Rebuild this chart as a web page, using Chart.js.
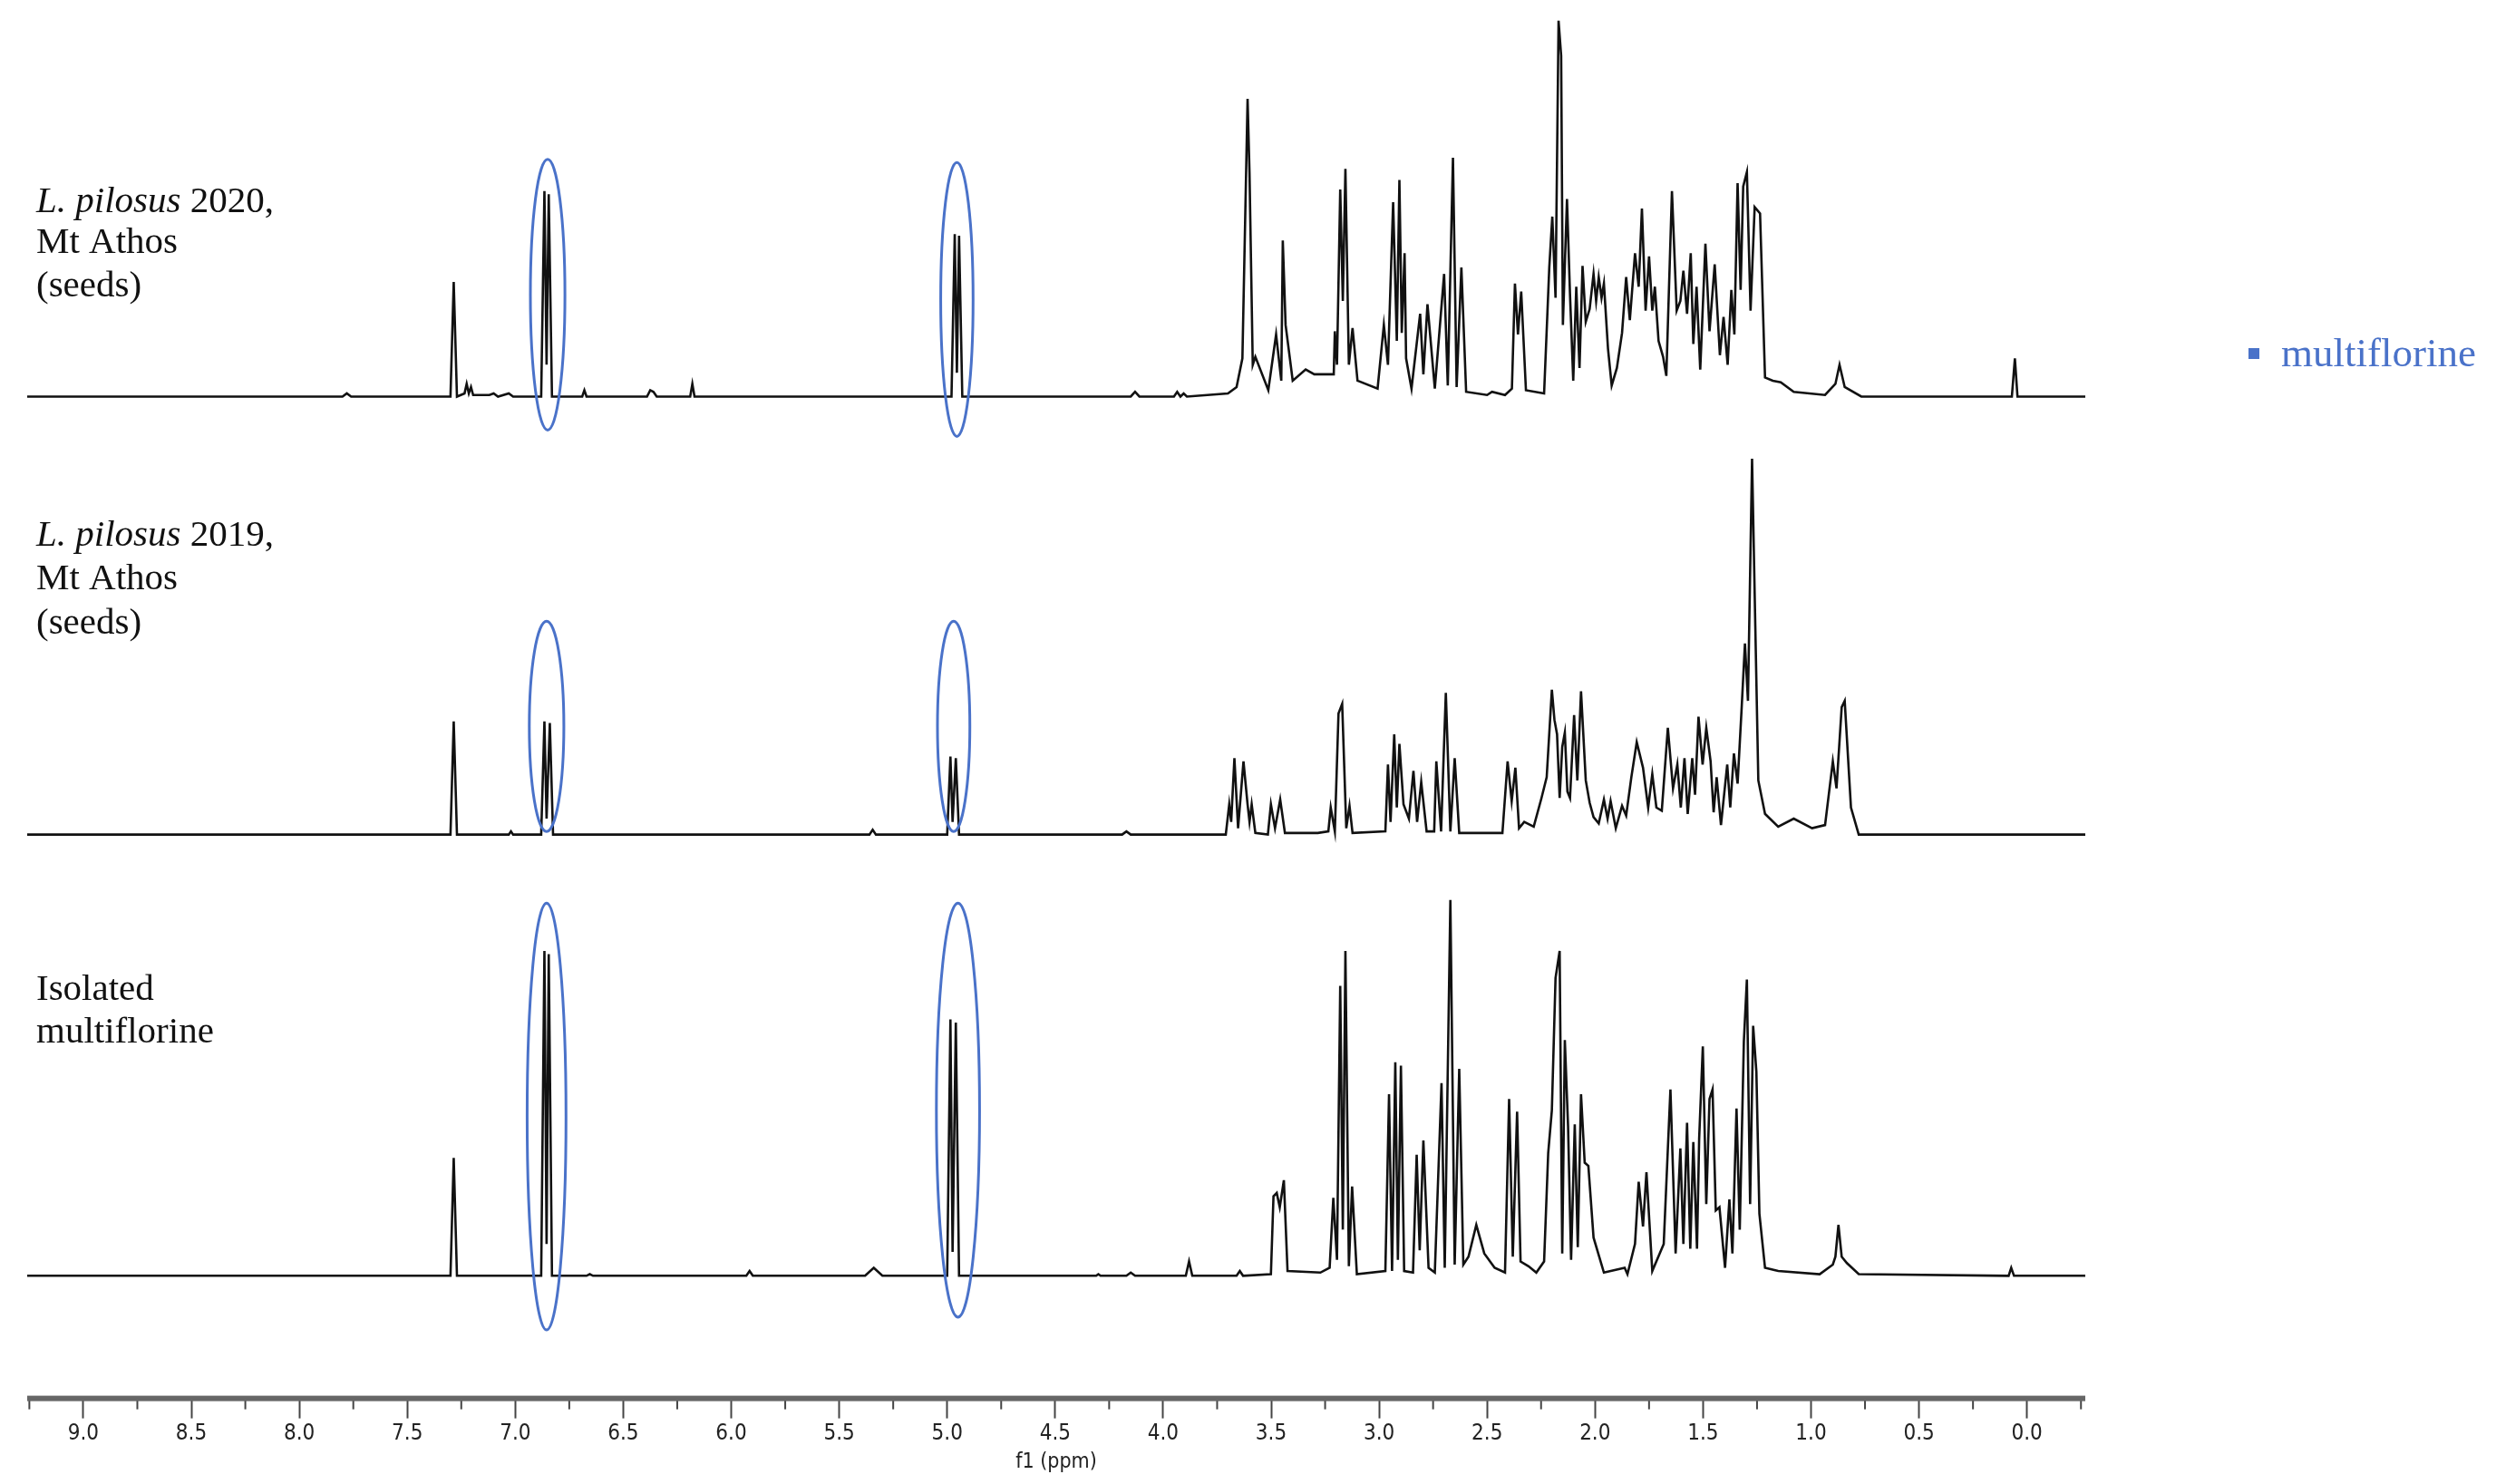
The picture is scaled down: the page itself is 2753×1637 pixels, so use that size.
<!DOCTYPE html>
<html><head><meta charset="utf-8">
<script src="https://cdn.jsdelivr.net/npm/chart.js@4"></script>
<style>html,body{margin:0;padding:0;background:#fff}#c{display:block}</style>
</head><body><canvas id="c" width="2753" height="1637"></canvas>
<script>
// [ppm, intensity] points
const spec2020 = [[9.26,0],[7.80,0],[7.78,2],[7.76,0],[7.30,0],[7.285,72],[7.27,0],[7.235,2],[7.225,8],[7.215,2],[7.205,6],[7.195,1],[7.12,1],[7.10,2],[7.08,0],[7.03,2],[7.01,0],[6.88,0],[6.865,129],[6.855,20],[6.845,127],[6.83,0],[6.69,0],[6.68,4],[6.67,0],[6.39,0],[6.375,4],[6.36,3],[6.345,0],[6.19,0],[6.18,8],[6.17,0],[4.98,0],[4.965,102],[4.955,15],[4.945,101],[4.93,0],[4.15,0],[4.13,3],[4.11,0],[3.95,0],[3.935,3],[3.92,0],[3.905,2],[3.89,0],[3.70,2],[3.66,6],[3.633,24],[3.609,187],[3.600,140],[3.585,20],[3.573,25],[3.513,4],[3.477,39],[3.453,10],[3.446,98],[3.433,45],[3.40,10],[3.34,17],[3.30,14],[3.25,14],[3.21,14],[3.205,41],[3.195,20],[3.18,130],[3.168,60],[3.156,143],[3.14,20],[3.123,43],[3.10,10],[3.007,5],[2.978,45],[2.959,20],[2.935,122],[2.918,35],[2.906,136],[2.895,40],[2.882,90],[2.875,24],[2.85,5],[2.81,52],[2.795,14],[2.776,58],[2.742,5],[2.699,77],[2.682,7],[2.658,150],[2.641,6],[2.619,81],[2.597,3],[2.50,1],[2.477,3],[2.417,1],[2.385,5],[2.371,71],[2.357,39],[2.342,66],[2.32,4],[2.236,2],[2.212,81],[2.198,113],[2.183,62],[2.169,236],[2.157,214],[2.149,45],[2.13,124],[2.116,64],[2.101,10],[2.087,69],[2.072,18],[2.058,82],[2.043,47],[2.025,55],[2.007,77],[1.995,60],[1.983,75],[1.97,62],[1.959,71],[1.94,30],[1.923,7],[1.899,18],[1.875,40],[1.856,75],[1.839,48],[1.815,90],[1.798,69],[1.783,118],[1.766,54],[1.75,88],[1.735,54],[1.723,69],[1.706,35],[1.685,25],[1.67,13],[1.644,129],[1.622,54],[1.605,60],[1.591,79],[1.574,52],[1.557,90],[1.545,33],[1.53,69],[1.513,17],[1.489,96],[1.47,41],[1.446,83],[1.422,26],[1.405,50],[1.386,20],[1.369,67],[1.355,39],[1.34,134],[1.326,67],[1.314,132],[1.297,141],[1.28,54],[1.261,119],[1.236,115],[1.213,12],[1.177,10],[1.14,9],[1.08,3],[0.935,1],[0.887,8],[0.868,20],[0.844,6],[0.767,0],[0.07,0],[0.056,24],[0.044,0],[-0.27,0]];
const spec2019 = [[9.26,0],[7.30,0],[7.285,71],[7.27,0],[7.03,0],[7.02,2],[7.01,0],[6.88,0],[6.865,71],[6.855,10],[6.84,70],[6.825,0],[5.36,0],[5.345,3],[5.33,0],[5.00,0],[4.985,49],[4.975,8],[4.96,48],[4.945,0],[4.19,0],[4.17,2],[4.15,0],[3.71,0],[3.694,19],[3.685,8],[3.67,48],[3.653,4],[3.628,46],[3.609,19],[3.60,8],[3.59,19],[3.573,1],[3.515,0],[3.501,19],[3.482,4],[3.458,22],[3.436,1],[3.284,1],[3.235,2],[3.224,17],[3.205,2],[3.188,76],[3.171,82],[3.152,4],[3.137,18],[3.123,1],[2.971,2],[2.959,44],[2.947,8],[2.93,63],[2.918,17],[2.906,57],[2.887,19],[2.862,10],[2.841,40],[2.824,8],[2.805,33],[2.78,2],[2.745,2],[2.735,46],[2.713,2],[2.691,89],[2.67,2],[2.65,48],[2.629,1],[2.429,1],[2.405,46],[2.386,21],[2.369,42],[2.352,4],[2.328,8],[2.284,5],[2.248,23],[2.224,36],[2.2,91],[2.188,72],[2.176,63],[2.164,23],[2.152,55],[2.14,64],[2.128,27],[2.116,23],[2.097,75],[2.082,34],[2.065,90],[2.043,34],[2.025,20],[2.007,11],[1.983,7],[1.959,22],[1.942,10],[1.928,21],[1.904,4],[1.875,18],[1.856,12],[1.832,36],[1.807,58],[1.778,42],[1.754,17],[1.735,38],[1.716,17],[1.691,15],[1.663,67],[1.639,29],[1.619,44],[1.603,17],[1.586,48],[1.571,13],[1.55,48],[1.537,25],[1.521,74],[1.502,44],[1.485,67],[1.465,46],[1.451,14],[1.437,36],[1.417,6],[1.388,44],[1.374,17],[1.357,51],[1.34,32],[1.321,80],[1.306,120],[1.292,84],[1.273,236],[1.258,131],[1.244,34],[1.213,13],[1.152,5],[1.08,10],[0.995,4],[0.935,6],[0.899,46],[0.882,29],[0.858,80],[0.844,84],[0.815,17],[0.779,0],[-0.27,0]];
const specIsolated = [[9.26,0],[7.30,0],[7.285,74],[7.27,0],[6.88,0],[6.865,204],[6.855,20],[6.845,202],[6.83,0],[6.67,0],[6.655,1],[6.64,0],[5.93,0],[5.915,3],[5.90,0],[5.38,0],[5.34,5],[5.30,0],[5.00,0],[4.985,161],[4.975,15],[4.96,159],[4.945,0],[4.31,0],[4.30,1],[4.29,0],[4.17,0],[4.15,2],[4.13,0],[3.895,0],[3.88,9],[3.865,0],[3.66,0],[3.645,3],[3.63,0],[3.501,1],[3.489,50],[3.474,52],[3.46,43],[3.441,60],[3.424,3],[3.272,2],[3.229,5],[3.212,49],[3.195,10],[3.18,182],[3.168,29],[3.156,204],[3.14,6],[3.125,56],[3.103,1],[2.971,3],[2.954,114],[2.94,3],[2.925,134],[2.913,10],[2.899,132],[2.884,3],[2.843,2],[2.826,76],[2.812,16],[2.795,85],[2.771,5],[2.742,2],[2.711,121],[2.696,5],[2.67,236],[2.65,7],[2.629,130],[2.61,7],[2.586,12],[2.55,32],[2.513,14],[2.465,5],[2.417,2],[2.398,111],[2.381,12],[2.361,103],[2.345,9],[2.308,6],[2.272,2],[2.236,9],[2.217,77],[2.2,104],[2.183,187],[2.164,204],[2.152,14],[2.14,148],[2.125,94],[2.111,10],[2.094,95],[2.08,18],[2.065,114],[2.048,71],[2.031,69],[2.007,24],[1.959,2],[1.863,5],[1.85,1],[1.815,20],[1.798,59],[1.778,31],[1.762,65],[1.735,3],[1.682,20],[1.651,117],[1.627,14],[1.605,80],[1.591,20],[1.574,96],[1.559,17],[1.545,84],[1.528,17],[1.518,86],[1.501,144],[1.485,45],[1.47,111],[1.456,117],[1.441,41],[1.424,43],[1.398,5],[1.378,48],[1.364,14],[1.345,105],[1.33,29],[1.311,147],[1.297,186],[1.282,45],[1.268,157],[1.253,128],[1.239,39],[1.213,5],[1.152,3],[0.96,1],[0.899,7],[0.887,12],[0.873,32],[0.858,12],[0.834,8],[0.779,1],[0.085,0],[0.073,5],[0.06,0],[-0.27,0]];
const seriesNames = ['L. pilosus 2020, Mt Athos (seeds)','L. pilosus 2019, Mt Athos (seeds)','Isolated multiflorine'];
const seriesOffsets = [629, 354, 77];
const sampleLabels = [
  [['L. pilosus',' 2020,'],['','Mt Athos'],['','(seeds)']],
  [['L. pilosus',' 2019,'],['','Mt Athos'],['','(seeds)']],
  [['','Isolated'],['','multiflorine']]
];
const legendLabel = 'multiflorine';
// highlighted multiflorine signals: [ppm centre, value centre, ppm half-width, value half-height]
const highlights = [[6.85,693,0.08,85],[4.955,690,0.075,86],[6.855,422,0.08,66],[4.97,422,0.075,66],[6.855,177,0.09,134],[4.95,181,0.1,130]];

const BLUE = '#4a72c9';
const specs = [spec2020, spec2019, specIsolated];
const datasets = specs.map((s,i)=>({
  label: seriesNames[i],
  data: s.map(p=>({x:p[0], y:p[1]+seriesOffsets[i]})),
  borderColor:'#111', borderWidth:2.6, pointRadius:0, tension:0, fill:false
}));

const deco = {
  id:'deco',
  afterDatasetsDraw(chart){
    const {ctx, scales:{x,y}} = chart;
    ctx.save();
    ctx.strokeStyle = BLUE; ctx.lineWidth = 3;
    highlights.forEach(h=>{
      const cx=x.getPixelForValue(h[0]), cy=y.getPixelForValue(h[1]);
      const rx=Math.abs(x.getPixelForValue(h[0]+h[2])-cx), ry=Math.abs(y.getPixelForValue(h[1]+h[3])-cy);
      ctx.beginPath(); ctx.ellipse(cx,cy,rx,ry,0,0,Math.PI*2); ctx.stroke();
    });
    ctx.strokeStyle='#444'; ctx.lineWidth=2;
    const by = chart.chartArea.bottom;
    for(let v=-0.25; v<=9.25; v+=0.5){
      const px=x.getPixelForValue(v);
      ctx.beginPath(); ctx.moveTo(px,by); ctx.lineTo(px,by+12); ctx.stroke();
    }
    ctx.fillStyle='#666'; ctx.fillRect(chart.chartArea.left, by-3, chart.chartArea.right-chart.chartArea.left, 6);
    ctx.fillStyle='#111'; ctx.textBaseline='alphabetic';
    const bases=[[234,279,327],[602,650,699],[1103,1150]];
    sampleLabels.forEach((lines,i)=>lines.forEach((ln,j)=>{
      let xx=40;
      if(ln[0]){ ctx.font='italic 41px "Liberation Serif", serif'; ctx.fillText(ln[0],xx,bases[i][j]); xx+=ctx.measureText(ln[0]).width; }
      ctx.font='41px "Liberation Serif", serif'; ctx.fillText(ln[1],xx,bases[i][j]);
    }));
    ctx.fillStyle=BLUE; ctx.fillRect(2480,384,12,12);
    ctx.font='45px "Liberation Serif", serif'; ctx.fillText(legendLabel,2516,404);
    ctx.restore();
  }
};

new Chart(document.getElementById('c'),{
  type:'line',
  data:{datasets},
  options:{
    responsive:false, animation:false, devicePixelRatio:1,
    layout:{padding:{left:30,right:453,top:0,bottom:0}},
    plugins:{legend:{display:false},tooltip:{enabled:false}},
    scales:{
      x:{type:'linear',reverse:true,min:-0.27,max:9.26,
        afterBuildTicks(s){const t=[];for(let v=0;v<=9.001;v+=0.5)t.push({value:Math.round(v*10)/10});s.ticks=t;},
        ticks:{callback:v=>v.toFixed(1),color:'#222',font:{family:'DejaVu Sans Condensed, DejaVu Sans',size:24},maxRotation:0,autoSkip:false,padding:3},
        grid:{drawOnChartArea:false,drawTicks:true,tickLength:22,tickColor:'#444',tickWidth:2},
        border:{display:false},
        title:{display:true,text:'f1 (ppm)',color:'#222',font:{family:'DejaVu Sans Condensed, DejaVu Sans',size:23},padding:{top:0,bottom:10}}
      },
      y:{type:'linear',min:0,max:878,display:false}
    }
  },
  plugins:[deco]
});
</script></body></html>
